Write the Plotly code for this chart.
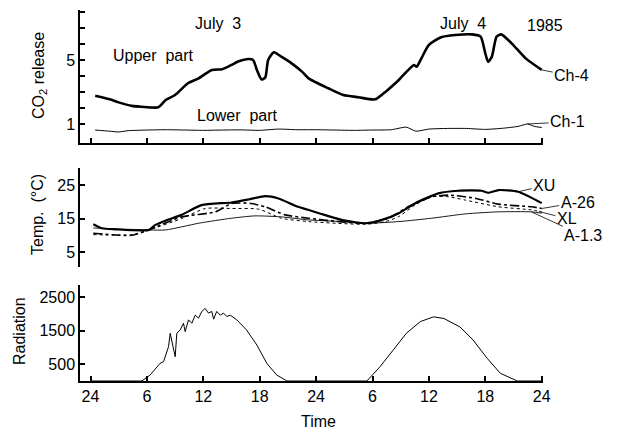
import plotly.graph_objects as go

# ---------------- data ----------------
# hours since midnight July 3 (0 = 24h on July 2)
ch4_h = [0.5, 1.2, 2.3, 3.0, 4.4, 5.4, 7.2, 8.0, 9.0, 10.4, 11.5, 12.9, 14.0, 15.0, 15.7, 16.8,
         17.3, 17.7, 18.2, 18.6, 18.9, 19.5, 20.3, 21.4, 22.5, 23.2, 25.3, 26.9, 28.5, 30.3,
         31.4, 32.8, 34.4, 34.7, 35.2, 36.0, 37.3, 38.8, 40.6, 41.5, 42.0, 42.3, 42.7, 43.2,
         43.7, 44.8, 46.3, 48.0]
ch4_v = [2.77, 2.67, 2.5, 2.35, 2.13, 2.08, 2.04, 2.5, 2.81, 3.56, 3.85, 4.38, 4.42, 4.69, 4.9, 5.06,
         5.0, 4.38, 3.78, 3.92, 5.0, 5.48, 5.21, 4.79, 4.27, 3.85, 3.23, 2.81, 2.67, 2.54,
         3.02, 3.75, 4.69, 4.58, 5.1, 5.94, 6.42, 6.56, 6.6, 6.46, 5.42, 4.88, 5.21, 6.46,
         6.6, 6.04, 5.1, 4.38]

ch1_h = [0.5, 2, 3, 4, 6, 8, 10, 12, 14, 16, 18, 20, 22, 24, 26, 28, 30, 32, 33.6, 34.6,
         36, 38, 40, 42, 44, 45.5, 46.5, 47.2, 48]
ch1_v = [0.62, 0.55, 0.5, 0.58, 0.62, 0.64, 0.62, 0.6, 0.62, 0.63, 0.6, 0.68, 0.64, 0.64, 0.62,
         0.6, 0.62, 0.64, 0.8, 0.55, 0.68, 0.72, 0.72, 0.66, 0.74, 0.85, 1.0, 0.85, 0.78]

xu_h = [0.3, 1.2, 2.6, 6.2, 6.9, 8.0, 9.7, 11.8, 15.0, 16.8, 18.6, 20.0, 22.1, 24.3, 26.7, 29.3,
        31.0, 32.8, 34.5, 37.0, 39.1, 41.6, 42.3, 43.4, 45.5, 48.0]
xu_v = [13.3, 12.1, 11.8, 11.6, 13.1, 14.4, 16.1, 19.0, 19.8, 20.7, 21.7, 21.0, 18.5, 16.6, 14.6, 13.6,
        14.6, 16.6, 19.5, 22.5, 23.3, 23.3, 22.7, 23.5, 23.0, 19.6]

a26_h = [0.3, 4.4, 6.2, 9.7, 13.3, 15.0, 17.1, 18.6, 20.7, 23.2, 25.6, 29.3, 31.7, 33.8, 36.3,
         38.1, 41.0, 43.4, 46.9, 48.0]
a26_v = [10.6, 10.0, 11.6, 15.5, 17.0, 19.5, 19.5, 18.5, 16.1, 15.1, 14.3, 13.6, 15.1, 18.5, 21.5,
         22.0, 21.0, 19.3, 18.5, 18.0]

xl_h = [0.3, 4.4, 6.2, 9.7, 12.2, 15.0, 17.9, 20.3, 23.2, 29.3, 31.4, 32.8, 34.5, 36.3, 38.1,
        39.9, 43.4, 46.9, 48.0]
xl_v = [10.2, 10.2, 11.6, 15.0, 18.0, 18.0, 17.8, 15.1, 14.1, 13.3, 14.1, 15.6, 19.0, 21.5, 21.5,
        20.5, 18.5, 17.6, 17.0]

a13_h = [0.3, 3.0, 6.2, 8.0, 11.5, 15.0, 17.5, 20.3, 23.2, 26.0, 29.3, 32.8, 36.3, 39.9, 43.4,
         46.9, 48.0]
a13_v = [12.2, 11.9, 11.6, 11.6, 13.6, 15.1, 15.8, 15.5, 14.6, 14.2, 13.6, 14.1, 15.1, 16.4, 17.0,
         17.0, 16.6]

rad_h = [0.0, 5.46, 6.35, 7.4, 7.77, 8.12, 8.3, 8.48, 8.65, 8.83, 9.01, 9.18, 9.54, 9.89, 10.07,
         10.43, 10.78, 11.14, 11.49, 11.84, 12.2, 12.55, 12.9, 13.1, 13.43, 13.8, 14.15, 14.5,
         14.86, 15.56, 16.6, 17.7, 18.76, 19.8, 20.9,
         29.4, 30.8, 32.2, 33.6, 35.1, 36.5, 37.6, 39.3, 40.7, 42.2, 43.6, 45.4, 48.0]
rad_v = [0, 0, 180, 525, 575, 870, 1020, 1420, 1170, 870, 720, 1420, 1520, 1720, 1470,
         1820, 1720, 1960, 1870, 2070, 2160, 2020, 2070, 1840, 2070, 1960, 2020, 1920,
         1960, 1820, 1520, 1070, 525, 180, 0,
         0, 425, 920, 1420, 1770, 1910, 1860, 1610, 1220, 675, 230, 0, 0]

time_ticks = [0, 6, 12, 18, 24, 30, 36, 42, 48]
time_labels = ["24", "6", "12", "18", "24", "6", "12", "18", "24"]

# ---------------- layout helpers ----------------
W, H = 617, 432
L, R, T, B = 80, 74, 10, 51
PW, PH = W - L - R, H - T - B


def px(x):
    return (x - L) / PW


def py(y):
    return (H - B - y) / PH


FONT = "Liberation Sans, Arial, sans-serif"
BLACK = "black"

fig = go.Figure()

fig.add_trace(go.Scatter(x=ch4_h, y=ch4_v, mode="lines",
                         line=dict(color=BLACK, width=2.6, shape="spline", smoothing=0.6),
                         xaxis="x", yaxis="y", name="Ch-4"))
fig.add_trace(go.Scatter(x=ch1_h, y=ch1_v, mode="lines",
                         line=dict(color=BLACK, width=1, shape="spline", smoothing=0.6),
                         xaxis="x", yaxis="y", name="Ch-1"))

fig.add_trace(go.Scatter(x=xu_h, y=xu_v, mode="lines",
                         line=dict(color=BLACK, width=2.2, shape="spline", smoothing=0.6),
                         xaxis="x2", yaxis="y2", name="XU"))
fig.add_trace(go.Scatter(x=a26_h, y=a26_v, mode="lines",
                         line=dict(color=BLACK, width=1.6, dash="dashdot", shape="spline", smoothing=0.6),
                         xaxis="x2", yaxis="y2", name="A-26"))
fig.add_trace(go.Scatter(x=xl_h, y=xl_v, mode="lines",
                         line=dict(color=BLACK, width=1, dash="dot", shape="spline", smoothing=0.6),
                         xaxis="x2", yaxis="y2", name="XL"))
fig.add_trace(go.Scatter(x=a13_h, y=a13_v, mode="lines",
                         line=dict(color=BLACK, width=0.9, shape="spline", smoothing=0.6),
                         xaxis="x2", yaxis="y2", name="A-1.3"))

fig.add_trace(go.Scatter(x=rad_h, y=rad_v, mode="lines", line=dict(color=BLACK, width=1),
                         xaxis="x3", yaxis="y3", name="Radiation"))

xr = [(L - 90.5) / 9.4, (W - R - 90.5) / 9.4]

common_x = dict(range=xr, tickvals=time_ticks, showgrid=False, zeroline=False,
                linecolor=BLACK, linewidth=1.5, ticks="inside", ticklen=5, tickwidth=1.5,
                tickcolor=BLACK, domain=[0, 1])

ax_font = dict(family=FONT, size=16, color=BLACK)

fig.update_layout(
    width=W, height=H, margin=dict(l=L, r=R, t=T, b=B),
    paper_bgcolor="white", plot_bgcolor="white", showlegend=False,
    font=ax_font,
    xaxis=dict(common_x, anchor="y", showline=True, showticklabels=False),
    xaxis2=dict(common_x, anchor="y2", matches="x", visible=False),
    xaxis3=dict(common_x, anchor="y3", matches="x", showline=True, showticklabels=True,
                ticktext=time_labels, tickfont=ax_font),
    yaxis=dict(domain=[py(143), py(10)], range=[-0.19, 8.125], tickvals=[1, 5],
               ticktext=["1", "5"], showgrid=False, zeroline=False,
               showline=True, linecolor=BLACK, linewidth=1.5, ticks="inside", ticklen=5,
               tickwidth=1.5, tickcolor=BLACK, tickfont=ax_font, anchor="x",
               minor=dict(tickvals=[2, 3, 4, 6, 7, 8], ticks="inside", ticklen=5,
                          tickwidth=1.5, tickcolor=BLACK)),
    yaxis2=dict(domain=[py(267), py(168)], range=[0.54, 30.09], tickvals=[5, 15, 25],
                showgrid=False, zeroline=False, showline=True, linecolor=BLACK, linewidth=1.5,
                ticks="inside", ticklen=5, tickwidth=1.5, tickcolor=BLACK, tickfont=ax_font,
                anchor="x2"),
    yaxis3=dict(domain=[0, py(285)], range=[0, 2857], tickvals=[500, 1500, 2500],
                showgrid=False, zeroline=False, showline=True, linecolor=BLACK, linewidth=1.5,
                ticks="inside", ticklen=5, tickwidth=1.5, tickcolor=BLACK, tickfont=ax_font,
                anchor="x3"),
)

ann = []


def text(t, x, y, xanchor="center", angle=0, size=16):
    ann.append(dict(text=t, x=px(x), y=py(y), xref="paper", yref="paper", showarrow=False,
                    xanchor=xanchor, yanchor="middle", textangle=angle,
                    font=dict(family=FONT, size=size, color=BLACK)))


text("CO<sub>2</sub> release", 39, 76, angle=-90)
text("Temp.  (°C)", 37, 215, angle=-90)
text("Radiation", 19, 331, angle=-90)
text("July  3", 218, 24)
text("July  4", 463, 24)
text("1985", 545, 25)
text("Upper  part", 153, 55)
text("Lower  part", 237, 115)
text("Time", 318, 421)


def leader(t, xref, yref, x, y, ax, ay):
    ann.append(dict(text=t, x=x, y=y, xref=xref, yref=yref, showarrow=True, arrowhead=0,
                    arrowwidth=0.8, arrowcolor=BLACK, ax=ax, ay=ay, standoff=0,
                    font=dict(family=FONT, size=16, color=BLACK)))


leader("Ch-4", "x", "y", ch4_h[-1], ch4_v[-1], 30, 6)
leader("Ch-1", "x", "y", 46.5, 1.0, 40, -2)
leader("XU", "x2", "y2", 45.5, 23.0, 26, -6)
leader("A-26", "x2", "y2", 48.0, 18.0, 36, -6)
leader("XL", "x2", "y2", 47.7, 17.1, 28, 7)
leader("A-1.3", "x2", "y2", 46.9, 17.0, 52, 24)

fig.update_layout(annotations=ann)

fig.write_html("out.html")
